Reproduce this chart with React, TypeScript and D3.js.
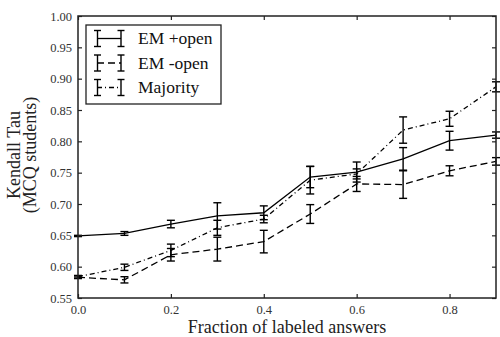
import React, { useEffect, useRef } from "react";
import * as d3 from "d3";

const fractions = [0.0, 0.1, 0.2, 0.3, 0.4, 0.5, 0.6, 0.7, 0.8, 0.9];

const emOpen = [0.649, 0.653, 0.668, 0.681, 0.686, 0.743, 0.751, 0.772, 0.801, 0.81];
const emOpenErr = [0.001, 0.003, 0.006, 0.021, 0.011, 0.017, 0.016, 0.018, 0.015, 0.005];

const emNoOpen = [0.583, 0.579, 0.619, 0.628, 0.64, 0.684, 0.732, 0.731, 0.753, 0.768];
const emNoOpenErr = [0.002, 0.005, 0.01, 0.019, 0.018, 0.015, 0.012, 0.022, 0.008, 0.006];

const majority = [0.584, 0.599, 0.626, 0.662, 0.676, 0.738, 0.748, 0.818, 0.836, 0.887];
const majorityErr = [0.002, 0.005, 0.01, 0.012, 0.006, 0.022, 0.008, 0.021, 0.012, 0.008];

const seriesNames = ["EM +open", "EM -open", "Majority"];
const xTicks = [0.0, 0.2, 0.4, 0.6, 0.8];
const yTicks = [0.55, 0.6, 0.65, 0.7, 0.75, 0.8, 0.85, 0.9, 0.95, 1.0];

const FONT = "Liberation Serif";

export default function App() {
    const svgRef = useRef<SVGSVGElement>(null);
    const width = 500;
    const height = 337;

    useEffect(() => {
        const margin = { top: 16, right: 4, bottom: 39, left: 78 };
        const innerWidth = width - margin.left - margin.right;
        const innerHeight = height - margin.top - margin.bottom;

        const svg = d3.select(svgRef.current);
        svg.selectAll("*").remove();

        const g = svg
            .append("g")
            .attr("transform", `translate(${margin.left},${margin.top})`);

        const x = d3.scaleLinear().domain([0, 0.9]).range([0, innerWidth]);
        const y = d3.scaleLinear().domain([0.55, 1.0]).range([innerHeight, 0]);

        const series = [
            { name: seriesNames[0], vals: emOpen, errs: emOpenErr, dash: null },
            { name: seriesNames[1], vals: emNoOpen, errs: emNoOpenErr, dash: "7,4" },
            { name: seriesNames[2], vals: majority, errs: majorityErr, dash: "5,3,1,3" },
        ];

        const line = d3
            .line<number>()
            .x((_, i) => x(fractions[i]))
            .y((d) => y(d));

        // lines
        series.forEach((s) => {
            g.append("path")
                .datum(s.vals)
                .attr("d", line)
                .attr("fill", "none")
                .attr("stroke", "#000")
                .attr("stroke-width", 1.3)
                .attr("stroke-dasharray", s.dash);
        });

        // error bars
        const cap = 4;
        series.forEach((s) => {
            const eb = g.append("g").attr("stroke", "#000").attr("stroke-width", 1.4);
            s.vals.forEach((v, i) => {
                const cx = x(fractions[i]);
                const top = y(v + s.errs[i]);
                const bot = y(v - s.errs[i]);
                eb.append("line").attr("x1", cx).attr("x2", cx).attr("y1", top).attr("y2", bot);
                eb.append("line").attr("x1", cx - cap).attr("x2", cx + cap).attr("y1", top).attr("y2", top);
                eb.append("line").attr("x1", cx - cap).attr("x2", cx + cap).attr("y1", bot).attr("y2", bot);
            });
        });

        // axes
        const axisColor = "#222";
        const styleAxis = (sel: any) => {
            sel.select(".domain").remove();
            sel.selectAll(".tick line").attr("stroke", axisColor).attr("stroke-width", 1.2);
            sel.selectAll(".tick text")
                .attr("font-family", FONT)
                .attr("font-size", 12.5)
                .attr("fill", "#333");
        };

        g.append("g")
            .attr("transform", `translate(0,${innerHeight})`)
            .call(
                d3.axisBottom(x).tickValues(xTicks).tickFormat(d3.format(".1f")).tickSizeInner(-4).tickSizeOuter(0).tickPadding(7)
            )
            .call(styleAxis);

        g.append("g")
            .call(d3.axisTop(x).tickValues(xTicks).tickSizeInner(-4).tickSizeOuter(0).tickFormat(() => ""))
            .call(styleAxis);

        g.append("g")
            .call(
                d3.axisLeft(y).tickValues(yTicks).tickFormat(d3.format(".2f")).tickSizeInner(-4).tickSizeOuter(0).tickPadding(6)
            )
            .call(styleAxis);

        g.append("g")
            .attr("transform", `translate(${innerWidth},0)`)
            .call(d3.axisRight(y).tickValues(yTicks).tickSizeInner(-4).tickSizeOuter(0).tickFormat(() => ""))
            .call(styleAxis);

        g.append("rect")
            .attr("width", innerWidth)
            .attr("height", innerHeight)
            .attr("fill", "none")
            .attr("stroke", axisColor)
            .attr("stroke-width", 1.5);

        // axis labels
        svg.append("text")
            .attr("x", margin.left + innerWidth / 2)
            .attr("y", 333)
            .attr("text-anchor", "middle")
            .attr("font-family", FONT)
            .attr("font-size", 18)
            .attr("fill", "#222")
            .text("Fraction of labeled answers");

        const yl = svg
            .append("text")
            .attr("transform", `translate(20,${margin.top + innerHeight / 2 - 2}) rotate(-90)`)
            .attr("text-anchor", "middle")
            .attr("font-family", FONT)
            .attr("font-size", 18)
            .attr("fill", "#222");
        yl.append("tspan").attr("x", 0).attr("dy", 0).text("Kendall Tau");
        yl.append("tspan").attr("x", 0).attr("dy", 15.5).text("(MCQ students)");

        // legend
        const lg = svg.append("g").attr("transform", "translate(86,25)");
        lg.append("rect")
            .attr("width", 135)
            .attr("height", 79)
            .attr("fill", "#fff")
            .attr("stroke", "#222")
            .attr("stroke-width", 1.3);
        series.forEach((s, i) => {
            const cy = 13.5 + i * 24.5;
            const row = lg.append("g").attr("stroke", "#000").attr("stroke-width", 1.4);
            row.append("line").attr("x1", 11).attr("x2", 35).attr("y1", cy).attr("y2", cy)
                .attr("stroke-width", 1.3).attr("stroke-dasharray", s.dash);
            [11.5, 35].forEach((lx) => {
                row.append("line").attr("x1", lx).attr("x2", lx).attr("y1", cy - 8).attr("y2", cy + 8);
                row.append("line").attr("x1", lx - 3.5).attr("x2", lx + 3.5).attr("y1", cy - 8).attr("y2", cy - 8);
                row.append("line").attr("x1", lx - 3.5).attr("x2", lx + 3.5).attr("y1", cy + 8).attr("y2", cy + 8);
            });
            lg.append("text")
                .attr("x", 52)
                .attr("y", cy + 5.5)
                .attr("font-family", FONT)
                .attr("font-size", 17.5)
                .attr("fill", "#111")
                .text(s.name);
        });
    }, []);

    return (
        <svg
            ref={svgRef}
            width={width}
            height={height}
            style={{ position: "absolute", left: 0, top: 0, background: "#fff" }}
        />
    );
}
